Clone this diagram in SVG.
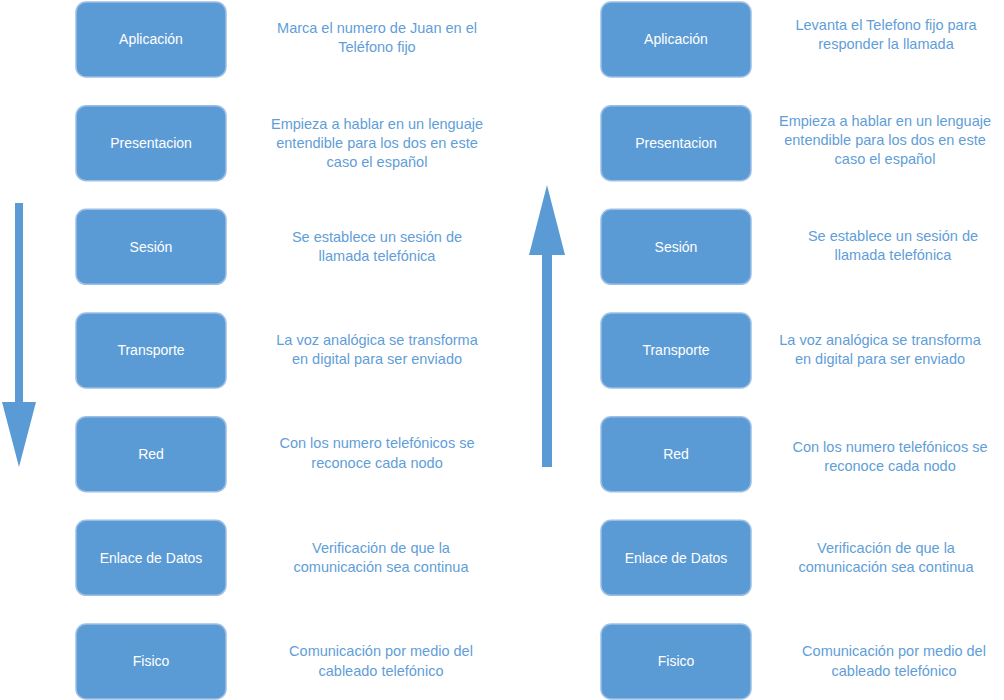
<svg xmlns="http://www.w3.org/2000/svg" width="1004" height="700" viewBox="0 0 1004 700">
<style>
.box{fill:#5B9BD5;stroke:#9dbfe6;stroke-width:1.5}
.lbl{font-family:"Liberation Sans",Arial,sans-serif;font-size:14px;fill:#ffffff;text-anchor:middle}
.desc{font-family:"Liberation Sans",Arial,sans-serif;font-size:14.5px;fill:#5f9ed8;text-anchor:middle}
.arr{fill:#5B9BD5}
</style>
<rect width="1004" height="700" fill="#ffffff"/>
<g id="connectors">
<polygon class="arr" points="15,203 23,203 23,402 36,402 19,467 2,402 15,402"/>
<polygon class="arr" points="542,467 552,467 552,255 565,255 547,185 529,255 542,255"/>
</g>
<g id="left-aplicacion"><rect class="box" x="76" y="2" width="150" height="75" rx="10"/><text class="lbl" x="151" y="44">Aplicación</text></g>
<g id="left-presentacion"><rect class="box" x="76" y="105.7" width="150" height="75" rx="10"/><text class="lbl" x="151" y="147.5">Presentacion</text></g>
<g id="left-sesion"><rect class="box" x="76" y="209.3" width="150" height="75" rx="10"/><text class="lbl" x="151" y="251.5">Sesión</text></g>
<g id="left-transporte"><rect class="box" x="76" y="313" width="150" height="75" rx="10"/><text class="lbl" x="151" y="355">Transporte</text></g>
<g id="left-red"><rect class="box" x="76" y="416.7" width="150" height="75" rx="10"/><text class="lbl" x="151" y="458.5">Red</text></g>
<g id="left-enlace"><rect class="box" x="76" y="520.3" width="150" height="75" rx="10"/><text class="lbl" x="151" y="562.5">Enlace de Datos</text></g>
<g id="left-fisico"><rect class="box" x="76" y="624" width="150" height="75" rx="10"/><text class="lbl" x="151" y="666">Fisico</text></g>

<g id="right-aplicacion"><rect class="box" x="601" y="2" width="150" height="75" rx="10"/><text class="lbl" x="676" y="44">Aplicación</text></g>
<g id="right-presentacion"><rect class="box" x="601" y="105.7" width="150" height="75" rx="10"/><text class="lbl" x="676" y="147.5">Presentacion</text></g>
<g id="right-sesion"><rect class="box" x="601" y="209.3" width="150" height="75" rx="10"/><text class="lbl" x="676" y="251.5">Sesión</text></g>
<g id="right-transporte"><rect class="box" x="601" y="313" width="150" height="75" rx="10"/><text class="lbl" x="676" y="355">Transporte</text></g>
<g id="right-red"><rect class="box" x="601" y="416.7" width="150" height="75" rx="10"/><text class="lbl" x="676" y="458.5">Red</text></g>
<g id="right-enlace"><rect class="box" x="601" y="520.3" width="150" height="75" rx="10"/><text class="lbl" x="676" y="562.5">Enlace de Datos</text></g>
<g id="right-fisico"><rect class="box" x="601" y="624" width="150" height="75" rx="10"/><text class="lbl" x="676" y="666">Fisico</text></g>

<g id="left-descriptions">
<text class="desc" x="377" y="33"><tspan x="377">Marca el numero de Juan en el</tspan><tspan x="377" dy="19">Teléfono fijo</tspan></text>
<text class="desc" x="377" y="129"><tspan x="377">Empieza a hablar en un lenguaje</tspan><tspan x="377" dy="19">entendible para los dos en este</tspan><tspan x="377" dy="19">caso el español</tspan></text>
<text class="desc" x="377" y="242"><tspan x="377">Se establece un sesión de</tspan><tspan x="377" dy="19">llamada telefónica</tspan></text>
<text class="desc" x="377" y="345"><tspan x="377">La voz analógica se transforma</tspan><tspan x="377" dy="19">en digital para ser enviado</tspan></text>
<text class="desc" x="377" y="448"><tspan x="377">Con los numero telefónicos se</tspan><tspan x="377" dy="20">reconoce cada nodo</tspan></text>
<text class="desc" x="381" y="553"><tspan x="381">Verificación de que la</tspan><tspan x="381" dy="19">comunicación sea continua</tspan></text>
<text class="desc" x="381" y="656"><tspan x="381">Comunicación por medio del</tspan><tspan x="381" dy="20">cableado telefónico</tspan></text>
</g>
<g id="right-descriptions">
<text class="desc" x="886" y="30"><tspan x="886">Levanta el Telefono fijo para</tspan><tspan x="886" dy="19">responder la llamada</tspan></text>
<text class="desc" x="885" y="126"><tspan x="885">Empieza a hablar en un lenguaje</tspan><tspan x="885" dy="19">entendible para los dos en este</tspan><tspan x="885" dy="19">caso el español</tspan></text>
<text class="desc" x="893" y="241"><tspan x="893">Se establece un sesión de</tspan><tspan x="893" dy="19">llamada telefónica</tspan></text>
<text class="desc" x="880" y="345"><tspan x="880">La voz analógica se transforma</tspan><tspan x="880" dy="19">en digital para ser enviado</tspan></text>
<text class="desc" x="890" y="452"><tspan x="890">Con los numero telefónicos se</tspan><tspan x="890" dy="19">reconoce cada nodo</tspan></text>
<text class="desc" x="886" y="553"><tspan x="886">Verificación de que la</tspan><tspan x="886" dy="19">comunicación sea continua</tspan></text>
<text class="desc" x="894" y="656"><tspan x="894">Comunicación por medio del</tspan><tspan x="894" dy="20">cableado telefónico</tspan></text>
</g>
</svg>
